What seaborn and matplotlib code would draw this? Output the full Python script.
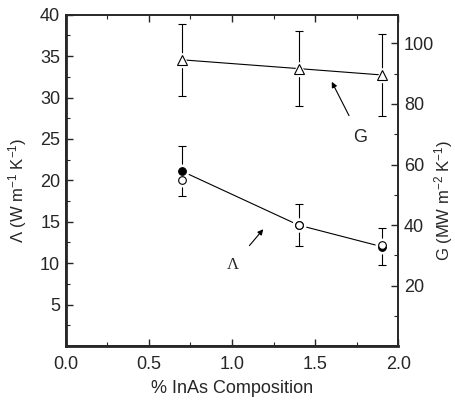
import matplotlib
matplotlib.use("Agg")
import matplotlib.pyplot as plt
from matplotlib.ticker import MultipleLocator, FormatStrFormatter
import seaborn as sns
import numpy as np

sns.set_style("ticks")
plt.rcParams["font.family"] = ["Liberation Sans", "DejaVu Sans"]
plt.rcParams["xtick.direction"] = "in"
plt.rcParams["ytick.direction"] = "in"

# data
composition = [0.7, 1.4, 1.9]
lam_filled = [21.1, 14.6, 12.0]    # Λ, filled circles (with error bars)
lam_err = [3.0, 2.55, 2.25]
lam_open = [20.0, 14.6, 12.2]      # Λ, open circles
g_vals = [94.6, 91.7, 89.6]        # G, triangles (right axis)
g_err = [12.0, 12.3, 13.5]

fs = 13

fig = plt.figure(figsize=(4.55, 4.03), dpi=100)
ax = fig.add_axes([0.1444, 0.1414, 0.731, 0.822])
ax2 = ax.twinx()

# Λ line + errors (left axis)
sns.lineplot(x=composition, y=lam_filled, ax=ax, color="black", lw=0.8, zorder=2)
ax.errorbar(composition, lam_filled, yerr=lam_err, fmt="none", ecolor="black",
            elinewidth=0.8, capsize=3, capthick=0.8, zorder=2)
# white halo to break lines at markers
ax.plot(composition, lam_filled, "o", ms=9, color="white", zorder=3)
ax.plot(composition, lam_open, "o", ms=9, color="white", zorder=3)
ax.plot(composition, lam_filled, "o", ms=5.5, mfc="black", mec="black", mew=0.8, zorder=4)
ax.plot(composition, lam_open, "o", ms=5.5, mfc="white", mec="black", mew=0.8, zorder=5)

# G line + errors (right axis)
sns.lineplot(x=composition, y=g_vals, ax=ax2, color="black", lw=0.8, zorder=2)
ax2.errorbar(composition, g_vals, yerr=g_err, fmt="none", ecolor="black",
             elinewidth=0.8, capsize=3, capthick=0.8, zorder=2)
ax2.plot(composition, g_vals, "^", ms=10, color="white", zorder=3)
ax2.plot(composition, g_vals, "^", ms=6.5, mfc="white", mec="black", mew=0.8, zorder=4)

ax.set_xlim(0, 2.0)
ax2.set_xlim(0, 2.0)
ax.set_ylim(0, 40)
ax2.set_ylim(0, 109.5)

ax.xaxis.set_major_locator(MultipleLocator(0.5))
ax.xaxis.set_minor_locator(MultipleLocator(0.25))
ax.xaxis.set_major_formatter(FormatStrFormatter("%.1f"))
ax.set_yticks([5, 10, 15, 20, 25, 30, 35, 40])
ax.yaxis.set_minor_locator(MultipleLocator(2.5))
ax2.set_yticks([20, 40, 60, 80, 100])
ax2.yaxis.set_minor_locator(MultipleLocator(10))

ax.tick_params(axis="x", which="both", top=True, direction="in")
ax.tick_params(axis="both", which="major", length=5, width=1, labelsize=fs, pad=4)
ax.tick_params(axis="x", which="major", pad=7)
ax.tick_params(axis="both", which="minor", length=3, width=0.8)
ax.tick_params(axis="y", which="both", right=False)
ax2.tick_params(axis="y", which="major", length=5, width=1, labelsize=fs, direction="in", pad=4)
ax2.tick_params(axis="y", which="minor", length=3, width=0.8, direction="in")

for a in (ax, ax2):
    for s in a.spines.values():
        s.set_linewidth(1.2)
        s.set_visible(True)
ax.spines["bottom"].set_linewidth(2)
ax.spines["left"].set_linewidth(2)

ax.set_xlabel("% InAs Composition", fontsize=fs, labelpad=5)
ax.set_ylabel(r"Λ (W m$\mathregular{^{-1}}$ K$\mathregular{^{-1}}$)", fontsize=12)
ax2.set_ylabel(r"G (MW m$\mathregular{^{-2}}$ K$\mathregular{^{-1}}$)", fontsize=12)
ax.yaxis.set_label_coords(-0.11, 0.47)
ax2.yaxis.set_label_coords(1.102, 0.44)

# arrows with labels
ax.annotate("G", xy=(1.60, 31.9), xytext=(1.77, 25.2), fontsize=fs,
            ha="center", va="center",
            arrowprops=dict(arrowstyle="-|>", color="black", lw=0.8,
                            shrinkA=8, shrinkB=0, mutation_scale=8))
ax.annotate("Λ", xy=(1.188, 14.1), xytext=(1.006, 9.78), fontsize=fs - 1,
            family="Liberation Serif", ha="center", va="center",
            arrowprops=dict(arrowstyle="-|>", color="black", lw=0.8,
                            shrinkA=8, shrinkB=0, mutation_scale=8))

fig.savefig("out.png", dpi=100)
